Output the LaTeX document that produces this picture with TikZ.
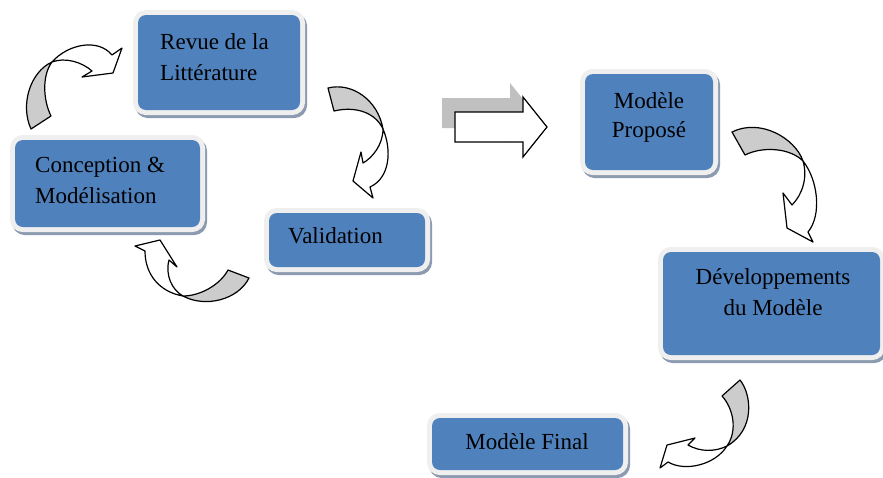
\documentclass[tikz,border=0pt]{standalone}
\usepackage{fontspec}
\setmainfont{Liberation Serif}
\definecolor{boxblue}{HTML}{4F81BD}
\definecolor{framegray}{HTML}{EFEFEF}
\definecolor{shadowblue}{RGB}{140,155,175}
\definecolor{arrowgray}{RGB}{204,204,204}
\definecolor{bigshadow}{RGB}{192,192,192}
\begin{document}
\begin{tikzpicture}[x=1pt,y=-1pt,
  stepbox/.style={rectangle, rounded corners=8pt, fill=boxblue, inner sep=0pt,
    preaction={draw=shadowblue, fill=shadowblue, line width=10pt, transform canvas={shift={(2pt,-3pt)}}},
    preaction={draw=framegray, line width=10pt}},
  lbl/.style={font=\fontsize{23}{30}\selectfont, inner sep=0pt, text=black},
  band/.style={draw=black, line width=1.2pt, line join=round},
  ]
\useasboundingbox (0,0) rectangle (883,477);

% boxes
\node[stepbox, minimum width=162pt, minimum height=95pt] (rev) at (219,62.5) {};
\node[stepbox, minimum width=185pt, minimum height=87pt] (con) at (107.5,183.5) {};
\node[stepbox, minimum width=156pt, minimum height=54pt] (val) at (347,240) {};
\node[stepbox, minimum width=128pt, minimum height=96pt] (prop) at (649,122) {};
\node[stepbox, minimum width=217pt, minimum height=103pt] (dev) at (771.5,303.5) {};
\node[stepbox, minimum width=191pt, minimum height=52pt] (fin) at (527.5,444) {};

% texts
\node[lbl, anchor=base west] (revA) at (160,49) {Revue de la};
\node[lbl, anchor=base west] (revB) at (160,80) {Littérature};
\node[lbl, anchor=base west] (conA) at (35,172) {Conception \&};
\node[lbl, anchor=base west] (conB) at (35,203) {Modélisation};
\node[lbl, anchor=base west] (valA) at (288,243) {Validation};
\node[lbl, anchor=base] (propA) at (649,108.5) {Modèle};
\node[lbl, anchor=base] (propB) at (649,137) {Proposé};
\node[lbl, anchor=base] (devA) at (773,284) {Développements};
\node[lbl, anchor=base] (devB) at (773,315) {du Modèle};
\node[lbl, anchor=base] (finA) at (527,449) {Modèle Final};

% big block arrow
\fill[bigshadow] (442,98) -- (510,98) -- (510,83) -- (534,113) -- (510,143) -- (510,128) -- (442,128) -- cycle;
\draw[fill=white, line width=1.2pt, line join=miter] (455,112) -- (523,112) -- (523,97) -- (547,127) -- (523,157) -- (523,142) -- (455,142) -- cycle;

% curved arrow A: Conception -> Revue
\path[band, fill=arrowgray] (31,129) -- (51,116) .. controls (43,100) and (42,75) .. (52,62) .. controls (30,72) and (20,105) .. (31,129) -- cycle;
\path[band, fill=white] (52,62) .. controls (68,44) and (98,38) .. (112,55) -- (122,48) -- (113,73) -- (82,77) -- (92,71) .. controls (82,62) and (65,57) .. (52,62) -- cycle;

% curved arrow B: Revue -> Validation
\path[band, fill=arrowgray] (328,88) -- (334,111) .. controls (355,106) and (375,112) .. (383,129) .. controls (378,100) and (352,82) .. (328,88) -- cycle;
\path[band, fill=white] (383,129) .. controls (392,150) and (390,178) .. (370,187) -- (373,198) -- (353,181) -- (361,152) -- (363,163) .. controls (372,158) and (383,145) .. (383,129) -- cycle;

% curved arrow C: Validation -> Conception
\path[band, fill=arrowgray] (228,270) -- (249,278) .. controls (238,300) and (205,308) .. (183,296) .. controls (200,296) and (220,285) .. (228,270) -- cycle;
\path[band, fill=white] (183,296) .. controls (160,292) and (145,275) .. (145,251) -- (135,246) -- (160,240) -- (177,267) -- (169,260) .. controls (165,275) and (172,290) .. (183,296) -- cycle;

% curved arrow D: Propose -> Developpements
\path[band, fill=arrowgray] (732,132) -- (745,155) .. controls (763,146) and (790,148) .. (803,161) .. controls (795,138) and (760,118) .. (732,132) -- cycle;
\path[band, fill=white] (803,161) .. controls (818,180) and (822,215) .. (808,232) -- (813,242) -- (787,228) -- (783,193) -- (792,205) .. controls (802,195) and (808,178) .. (803,161) -- cycle;

% curved arrow E: Developpements -> Final
\path[band, fill=arrowgray] (722,396) -- (740,380) .. controls (752,395) and (755,430) .. (727,446) .. controls (738,430) and (733,408) .. (722,396) -- cycle;
\path[band, fill=white] (727,446) .. controls (715,465) and (685,472) .. (668,462) -- (660,468) -- (667,445) -- (695,438) -- (688,445) .. controls (700,452) and (715,452) .. (727,446) -- cycle;
\end{tikzpicture}
\end{document}
